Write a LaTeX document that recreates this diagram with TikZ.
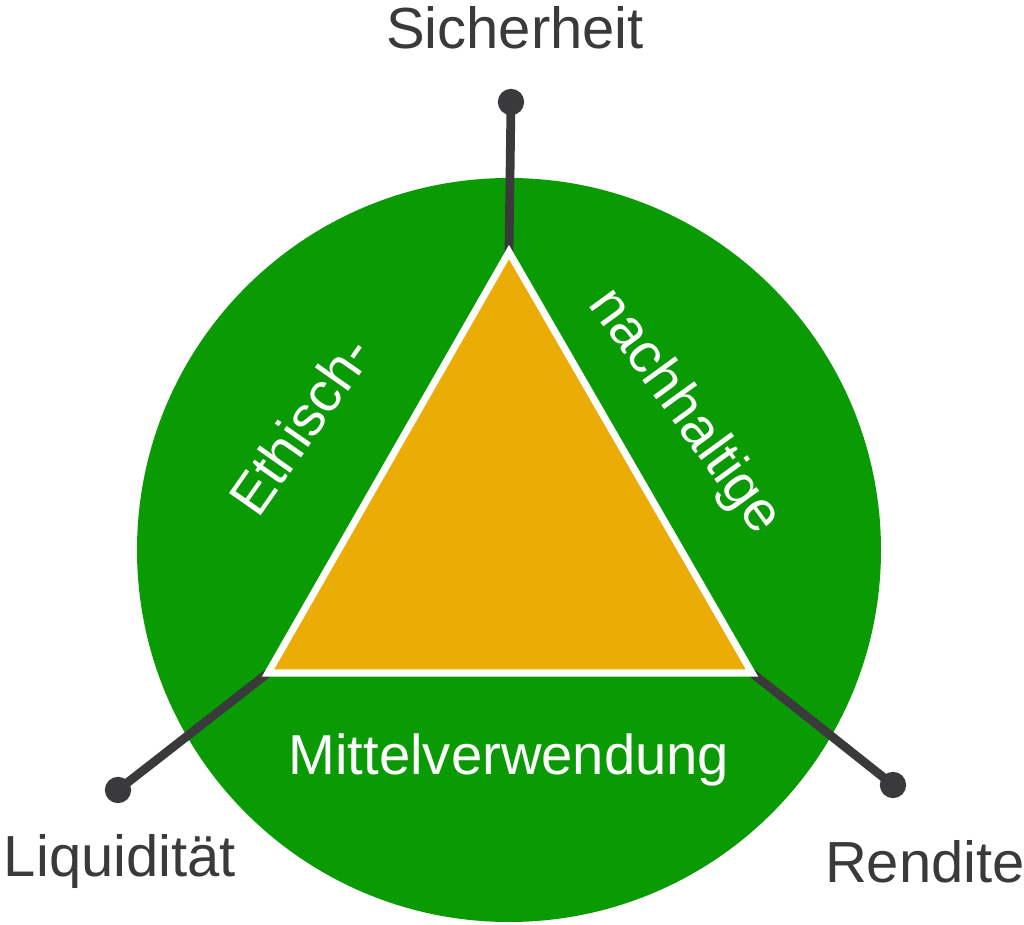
\documentclass[tikz,border=0pt]{standalone}
\usepackage{fontspec}
\setmainfont{Liberation Sans}
\definecolor{grn}{HTML}{0A9B04}
\definecolor{gold}{HTML}{EBAC06}
\definecolor{dk}{HTML}{3A3A3C}
\begin{document}
\begin{tikzpicture}[x=0.02cm,y=-0.02cm,
  lbl/.style={text=dk,font=\fontsize{33}{36}\selectfont,inner sep=0},
  wl/.style={text=white,font=\fontsize{32}{36}\selectfont,inner sep=0},
  conn/.style={draw=dk,line width=5pt},
  dot/.style={circle,fill=dk,minimum size=15pt,inner sep=0}]
\useasboundingbox (0,0) rectangle (1024,925);
\fill[grn] (509,550) circle (372);
\coordinate (T) at (509,252);
\coordinate (L) at (268,673);
\coordinate (R) at (752,673);
\node[dot] (dT) at (511,102) {};
\node[dot] (dL) at (118,790) {};
\node[dot] (dR) at (893,785) {};
\draw[conn] (dT.center) -- (T);
\draw[conn] (dL.center) -- (L);
\draw[conn] (dR.center) -- (R);
\draw[fill=gold,draw=white,line width=4pt,line join=miter] (T) -- (L) -- (R) -- cycle;
\node[lbl] (s) at (515,28) {Sicherheit};
\node[lbl] (l) at (120,862) {Liquidität};
\node[lbl] (r) at (925,862) {Rendite};
\node[wl] (m) at (509,760) {Mittelverwendung};
\node[wl,rotate=55] (e) at (300,425) {Ethisch-};
\node[wl,rotate=-54] (n) at (684,412) {nachhaltige};
\end{tikzpicture}
\end{document}
